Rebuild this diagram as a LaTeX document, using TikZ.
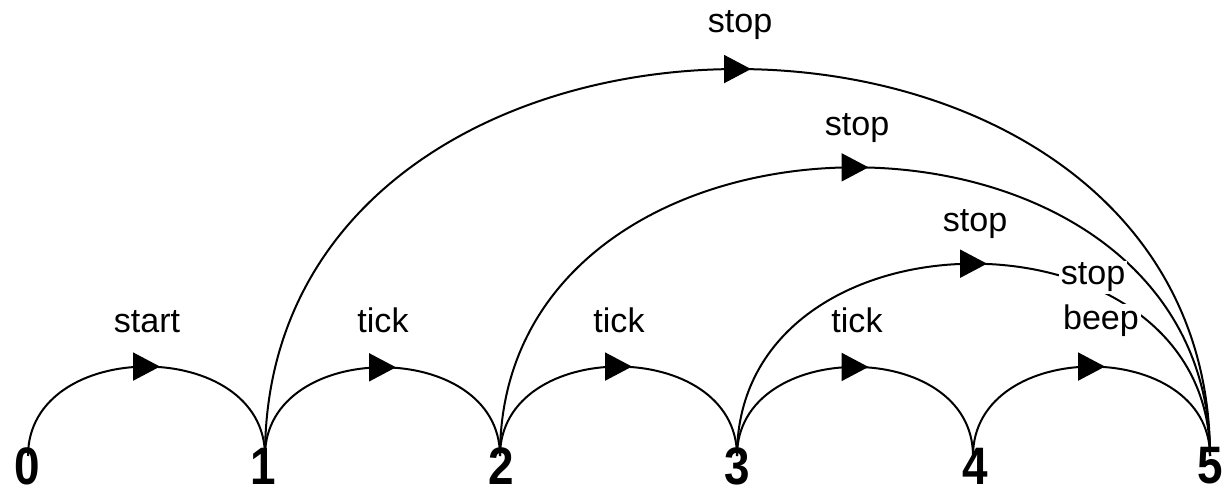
\documentclass[tikz,border=0pt]{standalone}
\usepackage{fontspec}
\setmainfont{Liberation Sans}
\usetikzlibrary{arrows.meta,decorations.markings}

\tikzset{
    trans/.style={line width=0.04cm,
        postaction={decorate,decoration={markings,
            mark=at position 0.5 with {\arrow[xshift=0.27cm]{Triangle[length=0.54cm,width=0.56cm]}}}}},
    lbl/.style={fill=white,inner sep=1pt,anchor=base,font=\fontsize{19.4}{23}\selectfont},
    num/.style={inner sep=0pt,xscale=0.87,transform shape,font=\fontsize{30}{36}\selectfont\bfseries},
}

\begin{document}
\begin{tikzpicture}[x=0.02cm,y=0.02cm]
    \useasboundingbox(0,0)rectangle(1228,490);
    \coordinate(A0)at(28,34);
    \coordinate(A1)at(265,34);
    \coordinate(A2)at(500,34);
    \coordinate(A3)at(737,34);
    \coordinate(A4)at(973,34);
    \coordinate(A5)at(1210,34);
    % one step to the next
    \draw[trans,looseness=1.29](A0)to[out=90,in=90](A1);
    \draw[trans,looseness=1.29](A1)to[out=90,in=90](A2);
    \draw[trans,looseness=1.29](A2)to[out=90,in=90](A3);
    \draw[trans,looseness=1.29](A3)to[out=90,in=90](A4);
    \draw[trans,looseness=1.29](A4)to[out=90,in=90](A5);
    % jumps to the end
    \draw[trans,looseness=1.4](A1)to[out=90,in=90](A5);
    \draw[trans,looseness=1.39](A2)to[out=90,in=90](A5);
    \draw[trans,looseness=1.39](A3)to[out=90,in=90](A5);
    \node[lbl](L0)at(147,157){start};
    \node[lbl](L1)at(383,157){tick};
    \node[lbl](L2)at(619,157){tick};
    \node[lbl](L3)at(857,157){tick};
    \node[lbl](L4)at(1101,160){beep};
    \node[lbl](S4)at(1093,205){stop};
    \node[lbl](S3)at(975,258){stop};
    \node[lbl](S2)at(857,354){stop};
    \node[lbl](S1)at(740,457){stop};
    \node[num](N0)at(27,24){0};
    \node[num](N1)at(263,24){1};
    \node[num](N2)at(501,24){2};
    \node[num](N3)at(737,24){3};
    \node[num](N4)at(975,24){4};
    \node[num](N5)at(1210,24){5};
\end{tikzpicture}
\end{document}
